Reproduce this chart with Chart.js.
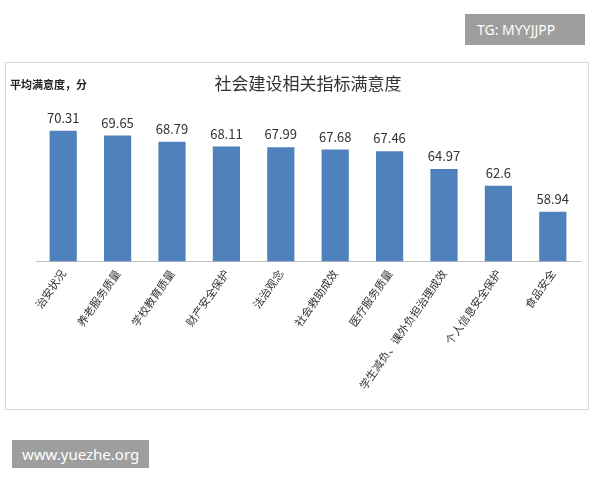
<!DOCTYPE html>
<html>
<head>
<meta charset="UTF-8">
<script src="https://cdn.jsdelivr.net/npm/chart.js"></script>
<style>
  body { margin: 0; background: #fff; font-family: "Noto Sans CJK SC", sans-serif; }
  #wrap { position: relative; width: 600px; height: 480px; }
  #frame { position: absolute; left: 5px; top: 62px; width: 584px; height: 348px; border: 1px solid #d9d9d9; box-sizing: border-box; }
  #chart { position: absolute; left: 6px; top: 63px; }
  .wm { position: absolute; background: #9e9e9e; color: #fff; font-family: "Noto Sans", sans-serif; font-size: 14px; padding: 4px 10px; }
</style>
</head>
<body>
<div id="wrap">
  <div id="frame"></div>
  <canvas id="chart" width="582" height="346"></canvas>
  <div class="wm" style="left:465px;top:14px;padding:6px 30px 6px 12px;">TG: MYYJJPP</div>
  <div class="wm" style="left:12px;top:440px;font-size:15px;">www.yuezhe.org</div>
</div>
<script>
const categories = ['治安状况', '养老服务质量', '学校教育质量', '财产安全保护', '法治观念', '社会救助成效', '医疗服务质量', '学生减负、课外负担治理成效', '个人信息安全保护', '食品安全'];
const scores = [70.31, 69.65, 68.79, 68.11, 67.99, 67.68, 67.46, 64.97, 62.6, 58.94];
const unitLabel = '平均满意度，分';

const valueLabels = {
  id: 'valueLabels',
  afterDatasetsDraw(chart) {
    const ctx = chart.ctx;
    ctx.save();
    ctx.font = '13px "Noto Sans CJK SC"';
    ctx.fillStyle = '#333';
    ctx.textAlign = 'center';
    chart.getDatasetMeta(0).data.forEach((bar, i) => {
      ctx.fillText(scores[i], bar.x, bar.y - 8);
    });
    ctx.font = 'bold 11px "Noto Sans CJK SC"';
    ctx.textAlign = 'left';
    ctx.fillStyle = '#222';
    ctx.fillText(unitLabel, 4, 26);
    ctx.restore();
  }
};

new Chart(document.getElementById('chart'), {
  type: 'bar',
  data: {
    labels: categories,
    datasets: [{ data: scores, backgroundColor: '#4f81bd', barPercentage: 0.5, categoryPercentage: 1 }]
  },
  options: {
    responsive: false,
    animation: false,
    layout: { padding: { left: 30, right: 8, top: 0, bottom: 11 } },
    plugins: {
      legend: { display: false },
      tooltip: { enabled: false },
      title: { display: true, text: '社会建设相关指标满意度', color: '#333', font: { size: 17, family: '"Noto Sans CJK SC"', weight: 'normal' }, padding: { top: 10, bottom: 14 } }
    },
    scales: {
      x: {
        grid: { display: false, drawTicks: false },
        border: { color: '#bfbfbf' },
        ticks: { minRotation: 55, maxRotation: 55, color: '#333', font: { size: 11, family: '"Noto Sans CJK SC"' }, padding: 6 }
      },
      y: { display: false, min: 52, max: 73.6 }
    }
  },
  plugins: [valueLabels]
});
</script>
</body>
</html>
